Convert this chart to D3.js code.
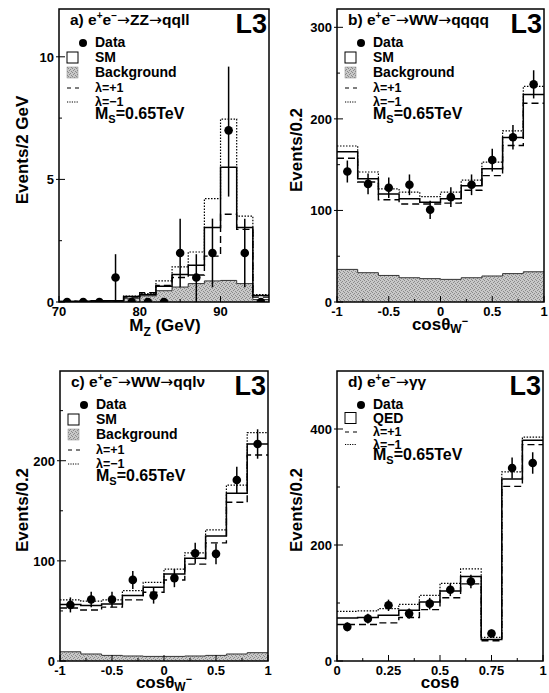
<!DOCTYPE html>
<html>
<head>
<meta charset="utf-8">
<script src="https://d3js.org/d3.v7.min.js"></script>
<style>
  body { margin: 0; background: #fff; }
  svg text { font-family: "Liberation Sans", Arial, sans-serif; font-weight: bold; fill: #000; }
</style>
</head>
<body>
<div id="chart"></div>
<script>
// ---- a) ZZ -> qqll, M_Z, 2 GeV bins
const aEdges = [70, 72, 74, 76, 78, 80, 82, 84, 86, 88, 90, 92, 94, 96];
const aSM  = [0.02, 0.03, 0.05, 0.05, 0.22, 0.3, 0.64, 1.12, 1.5, 3.04, 5.5, 3.04, 0.27];
const aBkg = [0.02, 0.02, 0.03, 0.03, 0.15, 0.25, 0.46, 0.61, 0.75, 0.86, 0.88, 0.75, 0.1];
const aLp  = [0.02, 0.03, 0.05, 0.05, 0.2, 0.38, 0.68, 1.0, 1.1, 1.87, 3.58, 2.96, 0.2];
const aLm  = [0.02, 0.03, 0.05, 0.06, 0.24, 0.34, 0.86, 1.43, 2.04, 4.22, 7.46, 3.5, 0.3];
const aData = [0, 0, 0, 1, 0, 0, 0, 2, 1, 2, 7, 2, 0];
const aErrLo = [0, 0, 0, 1, 0, 0, 0, 1.4, 1, 1.4, 2.7, 1.4, 0];
const aErrHi = [0, 0, 0, 0.95, 0, 0, 0, 1.4, 0.95, 1.4, 2.6, 1.4, 0];

// ---- b) WW -> qqqq, cos theta_W-
const bEdges = [-1, -0.8, -0.6, -0.4, -0.2, 0, 0.2, 0.4, 0.6, 0.8, 1];
const bSM  = [164, 134.5, 118, 112.7, 109, 112.7, 127, 145.5, 179.6, 226.5];
const bBkg = [35.6, 32, 29, 26.5, 25.5, 24.7, 26.5, 28.4, 31, 33];
const bLp  = [157, 131, 111.6, 107, 107, 108, 122, 138, 171, 217];
const bLm  = [170.4, 142, 123.6, 120, 115, 120, 133, 152.7, 186.8, 235.5];
const bData = [142.5, 129, 124.7, 128, 100.7, 114.5, 128, 155, 180, 237.7];
const bErr  = [12, 11.4, 11.2, 11.3, 10, 10.7, 11.3, 12.4, 13.4, 15.4];

// ---- c) WW -> qqlv, cos theta_W-
const cEdges = [-1, -0.8, -0.6, -0.4, -0.2, 0, 0.2, 0.4, 0.6, 0.8, 1];
const cSM  = [56.4, 55.4, 57, 65.3, 73.6, 86.8, 102.6, 124.8, 167.5, 216.7];
const cBkg = [9.2, 7, 5.6, 5, 4.6, 4.6, 5, 5.6, 7, 8.3];
const cLp  = [53, 51, 53.8, 61, 68.6, 80.9, 96.7, 118, 158.5, 205.7];
const cLm  = [61, 59.7, 61, 70.3, 78.5, 91.7, 108, 131, 175.7, 228];
const cData = [56, 61.4, 61.4, 81, 65.3, 82.8, 107.6, 107, 180.7, 216.7];
const cErr  = [7.5, 7.8, 7.8, 9, 8, 9.1, 10.4, 10.3, 13.4, 14.7];

// ---- d) gamma gamma, cos theta
const dEdges = [0, 0.1, 0.2, 0.3, 0.4, 0.5, 0.6, 0.7, 0.8, 0.9, 1];
const dSM  = [74.3, 74.9, 78.9, 87.4, 101.7, 120.6, 145.7, 37, 313.8, 380.5];
const dLp  = [62.9, 62.9, 65.7, 74.9, 88.6, 109, 133, 35, 301, 373];
const dLm  = [85.7, 86.3, 90.3, 97.7, 113, 134, 158.9, 40.6, 326, 386];
const dData = [58.9, 73, 96, 81.7, 98.9, 122.9, 137, 47.4, 332.8, 341.4];
const dErr  = [7.7, 8.5, 9.8, 9, 10, 11, 11.7, 6.9, 18, 18.5];

const W = 549, H = 693;
const svg = d3.select("#chart").append("svg").attr("width", W).attr("height", H);

// stippled grey like the scanned background fill
const defs = svg.append("defs");
const pat = defs.append("pattern").attr("id", "stipple").attr("patternUnits", "userSpaceOnUse")
  .attr("width", 4).attr("height", 4);
pat.append("rect").attr("width", 4).attr("height", 4).attr("fill", "#c8c8c8");
[[0, 0], [2, 1], [1, 2], [3, 3]].forEach(p =>
  pat.append("rect").attr("x", p[0]).attr("y", p[1]).attr("width", 1).attr("height", 1).attr("fill", "#8a8a8a"));

function stepPath(edges, vals, x, y) {
  let d = "M" + x(edges[0]) + "," + y(vals[0]);
  vals.forEach((v, i) => {
    d += "V" + y(v) + "H" + x(edges[i + 1]);
  });
  return d;
}

function drawPanel(p) {
  const g = svg.append("g");
  const x = d3.scaleLinear().domain(p.xDomain).range([p.left, p.right]);
  const y = d3.scaleLinear().domain([0, p.yMax]).range([p.bottom, p.top]);
  const clipId = "clip" + p.id;
  defs.append("clipPath").attr("id", clipId).append("rect")
    .attr("x", p.left).attr("y", p.top).attr("width", p.right - p.left).attr("height", p.bottom - p.top);
  const plot = g.append("g").attr("clip-path", "url(#" + clipId + ")");

  // background (grey)
  if (p.bkg) {
    const area = "M" + x(p.edges[0]) + "," + y(0) + stepPath(p.edges, p.bkg, x, y).replace(/^M[^V]*/, "V" + y(p.bkg[0]))
      + "V" + y(0) + "Z";
    plot.append("path").attr("d", area).attr("fill", "url(#stipple)").attr("stroke", "none");
    plot.append("path").attr("d", stepPath(p.edges, p.bkg, x, y)).attr("fill", "none")
      .attr("stroke", "#333").attr("stroke-width", 1);
  }
  // predictions
  plot.append("path").attr("d", stepPath(p.edges, p.lm, x, y)).attr("fill", "none")
    .attr("stroke", "#000").attr("stroke-width", 1.2).attr("stroke-dasharray", "1.5,1.5");
  plot.append("path").attr("d", stepPath(p.edges, p.lp, x, y)).attr("fill", "none")
    .attr("stroke", "#000").attr("stroke-width", 1.4).attr("stroke-dasharray", "7,4");
  plot.append("path").attr("d", stepPath(p.edges, p.sm, x, y)).attr("fill", "none")
    .attr("stroke", "#000").attr("stroke-width", 1.5);

  // data points
  p.data.forEach((v, i) => {
    const cx = x((p.edges[i] + p.edges[i + 1]) / 2);
    const lo = p.errLo[i], hi = p.errHi[i];
    if (lo > 0 || hi > 0) {
      plot.append("line").attr("x1", cx).attr("x2", cx)
        .attr("y1", y(Math.max(0, v - lo))).attr("y2", y(v + hi))
        .attr("stroke", "#000").attr("stroke-width", 1.5);
    }
    plot.append("circle").attr("cx", cx).attr("cy", y(v)).attr("r", 4.3).attr("fill", "#000");
  });

  // frame
  g.append("rect").attr("x", p.left).attr("y", p.top).attr("width", p.right - p.left)
    .attr("height", p.bottom - p.top).attr("fill", "none").attr("stroke", "#000").attr("stroke-width", 1.5);

  // ticks
  const tk = g.append("g").attr("stroke", "#000").attr("stroke-width", 1);
  p.xMinor.forEach(t => tk.append("line").attr("x1", x(t)).attr("x2", x(t)).attr("y1", p.bottom).attr("y2", p.bottom - 3));
  p.xTicks.forEach(t => tk.append("line").attr("x1", x(t)).attr("x2", x(t)).attr("y1", p.bottom).attr("y2", p.bottom - 6));
  p.yMinor.forEach(t => tk.append("line").attr("x1", p.left).attr("x2", p.left + 3).attr("y1", y(t)).attr("y2", y(t)));
  p.yTicks.forEach(t => tk.append("line").attr("x1", p.left - 3).attr("x2", p.left + 6).attr("y1", y(t)).attr("y2", y(t)));

  p.xTicks.forEach((t, i) => g.append("text").attr("x", x(t)).attr("y", p.bottom + 13.5)
    .attr("text-anchor", "middle").attr("font-size", 13).text(p.xLabels[i]));
  p.yTicks.forEach((t, i) => g.append("text").attr("x", p.left - 5).attr("y", y(t) + 5)
    .attr("text-anchor", "end").attr("font-size", 13).text(p.yLabels[i]));

  // axis titles
  const xt = g.append("text").attr("x", p.xTitleX).attr("y", p.bottom + p.xTitleDy)
    .attr("text-anchor", "middle").attr("font-size", 17);
  p.xTitle(xt);
  g.append("text").attr("transform", "translate(" + p.yTitleX + "," + p.yTitleY + ") rotate(-90)")
    .attr("text-anchor", "middle").attr("font-size", 17).text(p.yTitle);

  // process title
  const tt = g.append("text").attr("x", p.left + 11).attr("y", p.top + 16).attr("font-size", 15.5);
  tt.append("tspan").text(p.tag + "  e");
  tt.append("tspan").attr("dy", -6).attr("font-size", 10).text("+");
  tt.append("tspan").attr("dy", 6).text("e");
  tt.append("tspan").attr("dy", -6).attr("font-size", 10).text("\u2212");
  let first = true;
  p.proc.split("\u2192").forEach((part, i) => {
    if (i > 0) {
      const a = tt.append("tspan").attr("font-family", "DejaVu Sans").attr("font-weight", "normal").text("\u2192");
      if (first) { a.attr("dy", 6); first = false; }
    }
    if (part) {
      const s = tt.append("tspan").text(part);
      if (first) { s.attr("dy", 6); first = false; }
    }
  });
  g.append("text").attr("x", p.right - 2).attr("y", p.top + 24).attr("text-anchor", "end")
    .attr("font-size", 27).text("L3");

  // legend
  const lx = p.left + 36, sx = p.left + 8;
  let ly = p.top + 38;
  const row = (label, kind, fs) => {
    if (kind === "dot") g.append("circle").attr("cx", sx + 16).attr("cy", ly - 4).attr("r", 4).attr("fill", "#000");
    if (kind === "box") g.append("rect").attr("x", sx).attr("y", ly - 10).attr("width", 11).attr("height", 11)
      .attr("fill", "#fff").attr("stroke", "#000").attr("stroke-width", 1);
    if (kind === "grey") g.append("rect").attr("x", sx).attr("y", ly - 10).attr("width", 11).attr("height", 11)
      .attr("fill", "url(#stipple)").attr("stroke", "#888").attr("stroke-width", 0.5);
    if (kind === "dash") g.append("line").attr("x1", sx).attr("x2", sx + 12).attr("y1", ly - 4).attr("y2", ly - 4)
      .attr("stroke", "#000").attr("stroke-width", 1.2).attr("stroke-dasharray", "4,4");
    if (kind === "dot2") g.append("line").attr("x1", sx).attr("x2", sx + 12).attr("y1", ly - 4).attr("y2", ly - 4)
      .attr("stroke", "#000").attr("stroke-width", 1).attr("stroke-dasharray", "1.2,1.2");
    g.append("text").attr("x", lx).attr("y", ly).attr("font-size", fs || 14).text(label);
    ly += p.rowH;
  };
  row("Data", "dot");
  row(p.smLabel, "box");
  if (p.bkg) row("Background", "grey");
  row("\u03bb=+1", "dash", 12.5);
  ly -= 1;
  row("\u03bb=\u22121", "dot2", 12.5);
  const ms = g.append("text").attr("x", lx).attr("y", ly - 2).attr("font-size", 16);
  ms.append("tspan").text("M");
  ms.append("tspan").attr("dy", 4).attr("font-size", 11).text("S");
  ms.append("tspan").attr("dy", -4).text("=0.65TeV");
}

const cosTitle = sub => t => {
  t.append("tspan").text("cos\u03b8");
  if (sub) {
    t.append("tspan").attr("dy", 3).attr("font-size", 12).text("W");
    t.append("tspan").attr("dy", -8).attr("font-size", 11).text("\u2212");
  }
};

drawPanel({
  id: "a", left: 59, right: 269, top: 9, bottom: 302, xDomain: [70, 96], yMax: 11.95,
  edges: aEdges, sm: aSM, bkg: aBkg, lp: aLp, lm: aLm, data: aData, errLo: aErrLo, errHi: aErrHi,
  xTicks: [70, 80, 90], xLabels: ["70", "80", "90"], xMinor: [75, 85, 95],
  yTicks: [0, 5, 10], yLabels: ["0", "5", "10"], yMinor: [2.5, 7.5],
  xTitleX: 165, xTitleDy: 29, xTitle: t => {
    t.append("tspan").text("M");
    t.append("tspan").attr("dy", 5).attr("font-size", 12).text("Z");
    t.append("tspan").attr("dy", -5).text(" (GeV)");
  },
  yTitle: "Events/2 GeV", yTitleX: 28, yTitleY: 150,
  tag: "a)", proc: "\u2192ZZ\u2192qqll", smLabel: "SM", rowH: 15
});

drawPanel({
  id: "b", left: 337, right: 544, top: 9, bottom: 302, xDomain: [-1, 1], yMax: 320,
  edges: bEdges, sm: bSM, bkg: bBkg, lp: bLp, lm: bLm, data: bData, errLo: bErr, errHi: bErr,
  xTicks: [-1, -0.5, 0, 0.5, 1], xLabels: ["-1", "-0.5", "0", "0.5", "1"], xMinor: [-0.75, -0.25, 0.25, 0.75],
  yTicks: [0, 100, 200, 300], yLabels: ["0", "100", "200", "300"], yMinor: [50, 150, 250],
  xTitleX: 440, xTitleDy: 28, xTitle: cosTitle(true),
  yTitle: "Events/0.2", yTitleX: 302, yTitleY: 150,
  tag: "b)", proc: "\u2192WW\u2192qqqq", smLabel: "SM", rowH: 15
});

drawPanel({
  id: "c", left: 60, right: 268, top: 371, bottom: 661, xDomain: [-1, 1], yMax: 289.6,
  edges: cEdges, sm: cSM, bkg: cBkg, lp: cLp, lm: cLm, data: cData, errLo: cErr, errHi: cErr,
  xTicks: [-1, -0.5, 0, 0.5, 1], xLabels: ["-1", "-0.5", "0", "0.5", "1"], xMinor: [-0.75, -0.25, 0.25, 0.75],
  yTicks: [0, 100, 200], yLabels: ["0", "100", "200"], yMinor: [50, 150, 250],
  xTitleX: 164, xTitleDy: 27, xTitle: cosTitle(true),
  yTitle: "Events/0.2", yTitleX: 28, yTitleY: 510,
  tag: "c)", proc: "\u2192WW\u2192qql\u03bd", smLabel: "SM", rowH: 15
});

drawPanel({
  id: "d", left: 337, right: 543, top: 371, bottom: 661, xDomain: [0, 1], yMax: 500,
  edges: dEdges, sm: dSM, bkg: null, lp: dLp, lm: dLm, data: dData, errLo: dErr, errHi: dErr,
  xTicks: [0, 0.25, 0.5, 0.75, 1], xLabels: ["0", "0.25", "0.5", "0.75", "1"], xMinor: [0.125, 0.375, 0.625, 0.875],
  yTicks: [0, 200, 400], yLabels: ["0", "200", "400"], yMinor: [100, 300],
  xTitleX: 440, xTitleDy: 27, xTitle: cosTitle(false),
  yTitle: "Events/0.2", yTitleX: 302, yTitleY: 510,
  tag: "d)", proc: "\u2192\u03b3\u03b3", smLabel: "QED", rowH: 13.5
});
</script>
</body>
</html>
